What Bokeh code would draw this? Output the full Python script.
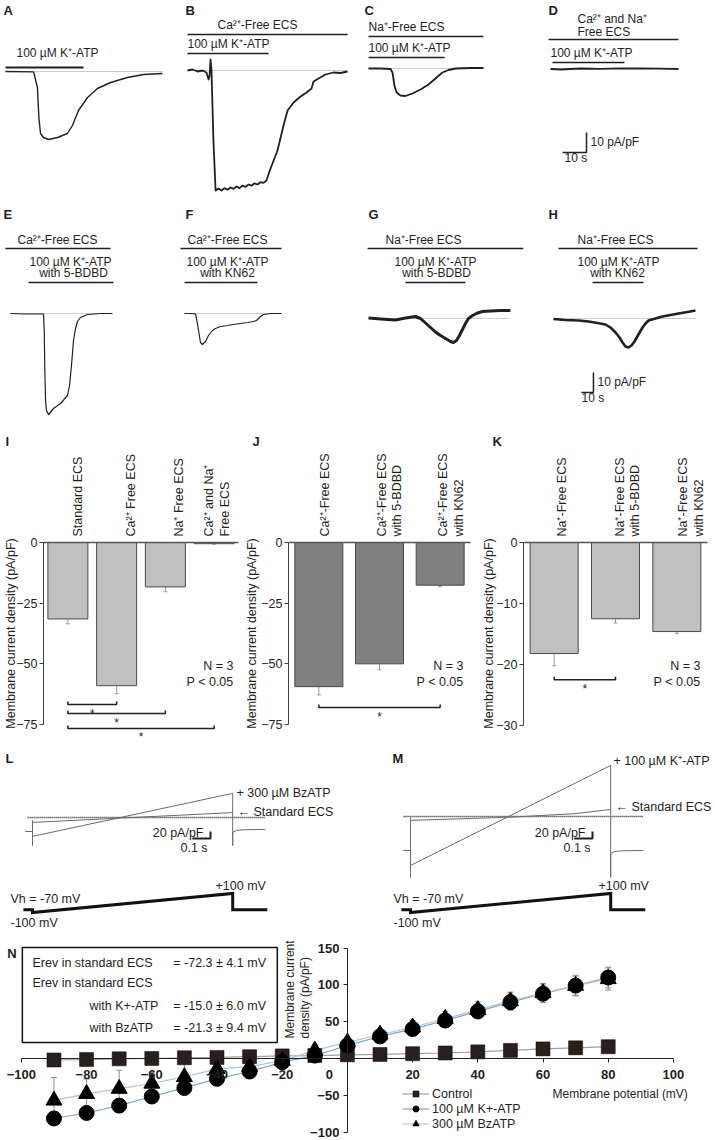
import math
from bokeh.plotting import figure
from bokeh.models import (Range1d, ColumnDataSource, Label, LabelSet, FixedTicker,
                          LinearAxis, Whisker, TeeHead, BoxAnnotation, Legend, LegendItem)
from bokeh.layouts import column, row
from bokeh.embed import file_html
from bokeh.resources import INLINE
from bokeh.core.properties import value

FONT = "Liberation Sans"
INK = "#231f20"

# ============================ DATA ============================
# A-D: whole-cell current density traces (time s, current pA/pF)
A_t = [0, 11.7, 13.3, 13.9, 14.6, 15.8, 17.9, 21.7, 25.8, 27.9, 30.4, 34.2, 38.3, 43.8, 50.8, 57.5, 65.4]
A_i = [0, -0.2, -8, -23, -31, -33, -34, -33, -31, -27, -19.5, -13, -8.5, -5.5, -3, -1.5, -1]
A_drug = [0, 32.5]

B_t = [0, 2.1, 4.2, 6.3, 7.9, 8.8, 9.2, 9.6, 10.0, 10.8, 11.7, 12.9, 14.2, 15.4, 16.7, 17.9, 19.2,
       20.4, 21.7, 22.9, 24.2, 25.4, 26.7, 27.9, 29.2, 30.4, 31.7, 32.9, 34.6, 37.5, 40.0, 41.7,
       44.2, 47.1, 49.6, 51.7, 52.5, 54.6, 57.5, 60.8, 63.8, 66.7]
B_i = [0, 0.5, -0.5, 0, -1, -4.5, -2.5, 5.5, 0, -35, -60, -59, -60, -58.8, -59.6, -58.5, -59.2,
       -58, -58.8, -57.6, -58.2, -57, -57.6, -56.4, -57, -55.8, -56.2, -55, -49, -40, -27.5, -20,
       -16, -13, -11, -9, -5.5, -4, -2, -1, -1.25, -0.5]
B_sol = [0, 66.7]
B_drug = [0, 33.75]

C_t = [0, 5, 9.2, 10, 10.8, 11.7, 13.3, 15.4, 18.3, 21.7, 25, 27.9, 30.8, 33.3, 36.3, 42.5, 47.9]
C_i = [0, 0, -0.25, -2, -8.5, -12, -13.5, -13.75, -12.5, -10.5, -8, -5, -2, -0.75, 0, 0.25, 0.25]
C_sol = [0, 47.9]
C_drug = [0, 31.7]

D_t = [0, 4.2, 8.3, 12.5, 20.8, 29.2, 37.5, 45.8, 53.3]
D_i = [-0.25, -0.5, -0.25, 0, -0.15, 0.1, 0, -0.1, -0.25]
D_sol = [-0.8, 53.3]
D_drug = [0.8, 30.8]

SCALE_T = 10      # s
SCALE_I = 10      # pA/pF

# E-H
E_t = [0, 12.5, 27.5, 28.1, 28.6, 29.2, 30, 31.7, 35.8, 41.7, 47.5, 49.2, 50.8, 51.7, 52.5, 54.2,
       55.8, 58.3, 64.2, 75, 85]
E_i = [0, -0.25, -0.25, -8.5, -28.5, -43.5, -48.5, -50.5, -47.5, -45, -41, -36, -26, -19.5, -13.5,
       -7.5, -4, -2, -0.5, 0, 0]
E_sol = [-4.2, 83.3]
E_drug = [15, 85.8]

F_t = [0, 5, 9.2, 10, 11.7, 13.3, 15, 17.5, 20, 23.3, 25.8, 30, 35.8, 40.8, 46.7, 52.5, 57.5, 60,
       61.7, 63.3, 65.8, 71.7, 80.8]
F_i = [0, 0, -0.25, -2.5, -8.5, -14.5, -15.5, -14, -11, -8.5, -7.5, -6.5, -6, -5.5, -5, -4.5, -4,
       -3.5, -2.5, -1.5, -0.5, 0, 0]
F_sol = [-5, 80.8]
F_drug = [0, 60.8]

G_t = [0, 10, 22.5, 30.8, 39.2, 43.3, 47.5, 51.7, 55.8, 60, 64.2, 68.3, 70.8, 73.3, 75.8, 78.3,
       80.8, 83.3, 86.7, 90.8, 95, 101.7, 110, 118.3]
G_i = [0.25, -0.25, -0.75, 0.25, 1, 0, -2.25, -4.5, -6.75, -8.5, -10, -11.5, -12, -11, -8.5, -5.5,
       -2.5, 0, 1.5, 2.75, 3.5, 3.75, 4, 4]
G_sol = [-0.8, 129]
G_drug = [30.8, 80.8]

H_t = [0, 10, 20.8, 29.2, 36.7, 43.3, 47.5, 51.7, 55, 57.5, 60, 62.5, 65, 67.5, 70.8, 74.2, 76.7,
       79.2, 85, 90.8, 97.5, 104.2, 111.7, 118.3]
H_i = [-0.25, -0.75, -1, -1.5, -2.25, -3, -4.5, -7, -9.5, -12, -14, -14.5, -13.5, -11.5, -8, -4.5,
       -2.5, -1, 0, 1, 1.75, 2.5, 3.25, 4]
H_sol = [4.2, 120]
H_drug = [32.5, 75]

# I-K: bar charts (pA/pF, mean and SEM)
I_cats = ["Standard ECS", "Ca²⁺ Free ECS", "Na⁺ Free ECS", "Ca²⁺ and Na⁺\nFree ECS"]
I_mean = [-31.5, -59.0, -18.3, -0.5]
I_err = [2.0, 3.3, 2.0, 0.2]
I_sig = [(0, 1, -66.8), (0, 2, -70.5), (0, 3, -76.6)]

J_cats = ["Ca²⁺-Free ECS", "Ca²⁺-Free ECS\nwith 5-BDBD", "Ca²⁺-Free ECS\nwith KN62"]
J_mean = [-59.4, -50.0, -17.6]
J_err = [3.4, 2.4, 0.5]
J_sig = [(0, 2, -68.0)]

K_cats = ["Na⁺-Free ECS", "Na⁺-Free ECS\nwith 5-BDBD", "Na⁺-Free ECS\nwith KN62"]
K_mean = [-18.2, -12.5, -14.6]
K_err = [2.0, 0.7, 0.3]
K_sig = [(0, 1, -22.5)]

IJ_ticks = [0, -25, -50, -75]
K_ticks = [0, -10, -20, -30]

# L-M: ramp protocol currents (time s, pA/pF) and voltage (mV)
L_bz_t = [-0.04, 0, 0, 0, 0, 1.1, 1.1, 1.1, 1.12, 1.16, 1.28]
L_bz_i = [-40, -40, -9, -80, -54, 69, -80, -43, -37, -35, -34]
L_std_t = [0, 1.1]
L_std_i = [-14, 14]
M_atp_t = [-0.04, 0, 0, 0, 0, 1.1, 1.1, 1.1, 1.12, 1.16, 1.28]
M_atp_i = [-97, -97, -3, -174, -140, 146, -174, -106, -100, -98, -97]
M_std_t = [0, 0.55, 0.9, 1.1]
M_std_i = [-11, -2, 8, 20]
V_t = [-0.05, 0, 0, 1.1, 1.1, 1.29]
V_mv = [-70, -70, -100, 100, -70, -70]
SCALE_RT = 0.1    # s
SCALE_RI = 20     # pA/pF

# N: I-V relation
N_v = [-90, -80, -70, -60, -50, -40, -30, -20, -10, 0, 10, 20, 30, 40, 50, 60, 70, 80]
N_ctrl = [-2, -1.5, -0.5, 0, 1, 1.5, 2.5, 3.5, 4, 5, 5.5, 6.5, 7.5, 9, 11, 13, 14.5, 16]
N_ctrl_err = [2, 2, 2, 2, 2, 2, 2, 2, 2, 2, 2, 2, 2, 2, 2, 2, 2, 2]
N_atp = [-81.5, -74, -64, -51.6, -40, -27.6, -17.7, -5, 4, 17.7, 30, 40, 51.6, 64, 76.5, 88, 99, 110]
N_atp_err = [8, 8, 9, 8, 9, 9, 8, 7, 6, 7, 7, 8, 9, 10, 11, 12, 13, 14]
N_bz = [-57, -48, -41, -34, -25, -14, -11, -3, 11, 22, 32.6, 42.5, 54, 66, 78, 89, 99, 108]
N_bz_err = [31, 20, 25, 15, 18, 12, 10, 8, 7, 7, 8, 9, 10, 11, 12, 13, 14, 15]
N_xticks = [-100, -80, -60, -40, -20, 0, 20, 40, 60, 80, 100]
N_yticks = [-100, -50, 0, 50, 100, 150]


# ============================ HELPERS ============================
def lab(p, x, y, s, size="12px", align="left", base="middle", bold=False, angle=0.0,
        color=INK, lh=1.2):
    p.add_layout(Label(x=x, y=y, text=s, text_font=FONT, text_font_size=size, text_align=align,
                       text_baseline=base, text_font_style="bold" if bold else "normal",
                       angle=angle, text_color=color, text_line_height=lh))


def labb(p, x, y_base, s, size="12px", align="left", bold=False, Yf=None):
    """place a one-line text by its baseline (layout px), drawn as middle-anchored text"""
    fs = float(size.replace("px", ""))
    ym = y_base - 0.35 * fs
    lab(p, x, Yf(ym) if Yf else ym, s, size, align, "middle", bold)


def trace_fig(w, h, rx0, ry0, t0_rx, kt, base_ry, ki):
    p = figure(width=w, height=h, x_range=Range1d(rx0, rx0 + w), y_range=Range1d(ry0 + h, ry0),
               output_backend="svg", toolbar_location=None, x_axis_location=None,
               y_axis_location=None, min_border=0, outline_line_color=None)
    p.xgrid.visible = False
    p.ygrid.visible = False
    p.extra_x_ranges = {"t": Range1d((rx0 - t0_rx) / kt, (rx0 + w - t0_rx) / kt)}
    p.extra_y_ranges = {"i": Range1d((base_ry - (ry0 + h)) / ki, (base_ry - ry0) / ki)}
    return p


def tbar(p, seg, ry, width=1.6):
    p.segment(x0=[seg[0]], x1=[seg[1]], y0=[ry], y1=[ry], x_range_name="t",
              line_color=INK, line_width=width)


def trace(p, t, i, width=1.3, color=INK):
    p.line(t, i, x_range_name="t", y_range_name="i", line_color=color, line_width=width,
           line_join="round")


def baseline(p, t0, t1, color="#9a9a9a", width=1.0, dash="1 1"):
    p.line([t0, t1], [0, 0], x_range_name="t", y_range_name="i", line_color=color,
           line_width=width, line_dash=dash)


def scalebar(p, tc, ic, dt, di, width=1.5):
    p.line([tc - dt, tc, tc], [ic, ic, ic + di], x_range_name="t", y_range_name="i",
           line_color=INK, line_width=width)


# ============================ ROW 1 ============================
pA = trace_fig(180, 200, 0, 0, 5, 2.4, 71, 2)
labb(pA, 3, 15, "A", "13px", bold=True)
labb(pA, 16, 57, "100 µM K⁺-ATP")
tbar(pA, A_drug, 67, 2)
baseline(pA, A_t[0], A_t[-1])
trace(pA, A_t, A_i, 1.4)

pB = trace_fig(175, 200, 180, 0, 187, 2.4, 70, 2)
labb(pB, 185, 15, "B", "13px", bold=True)
labb(pB, 217, 29, "Ca²⁺-Free ECS")
tbar(pB, B_sol, 34)
labb(pB, 187, 48, "100 µM K⁺-ATP")
tbar(pB, B_drug, 53)
baseline(pB, B_t[0], B_t[-1])
trace(pB, B_t, B_i, 1.8)

pC = trace_fig(185, 200, 355, 0, 368, 2.4, 68, 2)
labb(pC, 364, 15, "C", "13px", bold=True)
labb(pC, 368, 31, "Na⁺-Free ECS")
tbar(pC, C_sol, 36)
labb(pC, 368, 52, "100 µM K⁺-ATP")
tbar(pC, C_drug, 57)
baseline(pC, C_t[0], C_t[-1])
trace(pC, C_t, C_i, 1.8)

pD = trace_fig(175, 200, 540, 0, 550, 2.4, 68, 2)
labb(pD, 548, 15, "D", "13px", bold=True)
labb(pD, 577, 23, "Ca²⁺ and Na⁺")
labb(pD, 577, 36, "Free ECS")
tbar(pD, D_sol, 39)
labb(pD, 550, 57, "100 µM K⁺-ATP")
tbar(pD, D_drug, 62)
baseline(pD, D_t[0], D_t[-1])
trace(pD, D_t, D_i, 1.8)
scalebar(pD, 15, -42, SCALE_T, SCALE_I)
labb(pD, 590, 146, "10 pA/pF")
labb(pD, 564, 162, "10 s")

# ============================ ROW 2 ============================
pE = trace_fig(180, 220, 0, 200, 10, 1.2, 313, 2)
labb(pE, 3, 219, "E", "13px", bold=True)
labb(pE, 57, 244, "Ca²⁺-Free ECS", align="center")
tbar(pE, E_sol, 248)
labb(pE, 70, 266, "100 µM K⁺-ATP", align="center")
labb(pE, 73, 277, "with 5-BDBD", align="center")
tbar(pE, E_drug, 282)
baseline(pE, E_t[0], E_t[-1])
trace(pE, E_t, E_i, 1.2)

pF = trace_fig(175, 220, 180, 200, 184, 1.2, 313, 2)
labb(pF, 185, 219, "F", "13px", bold=True)
labb(pF, 227, 244, "Ca²⁺-Free ECS", align="center")
tbar(pF, F_sol, 248)
labb(pF, 227, 266, "100 µM K⁺-ATP", align="center")
labb(pF, 227, 277, "with KN62", align="center")
tbar(pF, F_drug, 282)
baseline(pF, F_t[0], F_t[-1])
trace(pF, F_t, F_i, 1.2)

pG = trace_fig(180, 220, 355, 200, 368, 1.2, 318, 2)
labb(pG, 368, 219, "G", "13px", bold=True)
labb(pG, 423, 244, "Na⁺-Free ECS", align="center")
tbar(pG, G_sol, 248)
labb(pG, 435, 266, "100 µM K⁺-ATP", align="center")
labb(pG, 436, 277, "with 5-BDBD", align="center")
tbar(pG, G_drug, 282)
baseline(pG, G_t[0], G_t[-1])
trace(pG, G_t, G_i, 3.0)

pH = trace_fig(180, 220, 535, 200, 553, 1.2, 318, 2)
labb(pH, 548, 219, "H", "13px", bold=True)
labb(pH, 615, 244, "Na⁺-Free ECS", align="center")
tbar(pH, H_sol, 248)
labb(pH, 618, 266, "100 µM K⁺-ATP", align="center")
labb(pH, 617, 277, "with KN62", align="center")
tbar(pH, H_drug, 282)
baseline(pH, H_t[0], H_t[-1])
trace(pH, H_t, H_i, 2.6)
scalebar(pH, 33.3, -37, SCALE_T, SCALE_I)
labb(pH, 597, 386, "10 pA/pF")
labb(pH, 581, 402, "10 s")


# ============================ ROW 3 ============================
def bar_fig(w, rx0, fl, fr, cats, means, errs, sigs, ky, ticks, fill, bar_px, dx, ylab_rx,
            letter, letter_rx, n_rx):
    n = len(cats)
    catpx = (fr - fl) / n
    X = lambda rx: 0.5 + (rx - fl) / catpx
    Y = lambda ry: (542.0 - ry) / ky
    p = figure(width=w, height=330, x_range=Range1d(X(rx0), X(rx0 + w)),
               y_range=Range1d(Y(750), Y(420)), output_backend="svg", toolbar_location=None,
               x_axis_location=None, y_axis_location=None, min_border=0,
               outline_line_color=None)
    p.xgrid.visible = False
    p.ygrid.visible = False
    xs = list(range(1, n + 1))
    p.vbar(x=xs, top=[0] * n, bottom=means, width=bar_px / catpx, fill_color=fill,
           line_color="#4a4a4a", line_width=1)
    src = ColumnDataSource(dict(x=xs, up=[m + e for m, e in zip(means, errs)],
                                lo=[m - e for m, e in zip(means, errs)]))
    p.add_layout(Whisker(source=src, base="x", upper="up", lower="lo", line_color="#9a9a9a",
                         line_width=1,
                         upper_head=TeeHead(size=4, line_color="#9a9a9a", line_width=1),
                         lower_head=TeeHead(size=4, line_color="#9a9a9a", line_width=1)))
    # zero line (category axis) and value axis
    xax = LinearAxis(fixed_location=0, bounds=(0.5, n + 0.5), ticker=FixedTicker(ticks=[]),
                     axis_line_color="#555555", axis_line_width=1.5,
                     major_tick_line_color=None, minor_tick_line_color=None)
    p.add_layout(xax, "above")
    yax = LinearAxis(fixed_location=0.5, bounds=(min(ticks), max(ticks)),
                     ticker=FixedTicker(ticks=ticks))
    yax.major_label_text_font = FONT
    yax.major_label_text_font_size = "12.5px"
    yax.major_label_text_color = INK
    yax.major_label_standoff = 2
    yax.major_tick_out = 4
    yax.major_tick_in = 0
    yax.minor_tick_line_color = None
    yax.axis_line_color = "#404040"
    yax.major_tick_line_color = "#404040"
    p.add_layout(yax, "left")
    lab(p, X(ylab_rx), Y(633), "Membrane current density (pA/pF)", "12.5px", align="center",
        base="middle", angle=math.pi / 2)
    lsrc = ColumnDataSource(dict(x=xs, y=[Y(536)] * n, text=cats, dx=dx))
    p.add_layout(LabelSet(source=lsrc, x="x", y="y", text="text", x_offset="dx",
                          angle=math.pi / 2, text_align="left", text_baseline="middle",
                          text_font=value(FONT), text_font_size="12.5px", text_color=INK,
                          text_line_height=1.1))
    tick = 3.0 / ky
    for a, b, yb in sigs:
        xa, xb = a + 1, b + 1
        p.line([xa, xa, xb, xb], [yb + tick, yb, yb, yb + tick], line_color=INK, line_width=1.5)
        p.text(x=[(xa + xb) / 2], y=[yb - 2.0 / ky], text=["*"], text_align="center",
               text_baseline="top", text_font=value(FONT), text_font_size="12px",
               text_color=INK)
    labb(p, X(letter_rx), 446, letter, "13px", bold=True, Yf=Y)
    labb(p, X(n_rx), 670, "N = 3", "12.5px", align="right", Yf=Y)
    labb(p, X(n_rx), 686, "P < 0.05", "12.5px", align="right", Yf=Y)
    return p


pI = bar_fig(240, 0, 43, 238, I_cats, I_mean, I_err, I_sig, 182 / 75.0, IJ_ticks, "#c0c0c0",
             40, [10, 14, 14, 3], 10, "I", 5, 233)
pJ = bar_fig(232, 240, 288, 470, J_cats, J_mean, J_err, J_sig, 182 / 75.0, IJ_ticks, "#808080",
             48, [6, 10, 11], 251, "J", 252, 463)
pK = bar_fig(243, 472, 523, 707, K_cats, K_mean, K_err, K_sig, 183 / 30.0, K_ticks, "#c0c0c0",
             48, [8, 12, 14], 488, "K", 492, 700)


# ============================ ROW 4 ============================
def ramp_fig(w, rx0, t0_rx, base_ry):
    p = trace_fig(w, 190, rx0, 750, t0_rx, 182, base_ry, 0.35)
    p.extra_y_ranges = {"i": Range1d((base_ry - 940) / 0.35, (base_ry - 750) / 0.35),
                        "v": Range1d(-100 + (912 - 940) / 0.095, -100 + (912 - 750) / 0.095)}
    return p


def vtrace(p, t, v):
    p.line(t, v, x_range_name="t", y_range_name="v", line_color="#111111", line_width=3,
           line_join="miter")


pL = ramp_fig(360, 0, 32, 817)
labb(pL, 5, 763, "L", "13px", bold=True)
baseline(pL, -0.027, 1.28, color="#111111", width=1.5, dash="1 1")
trace(pL, L_std_t, L_std_i, 1.0, "#6a6a6a")
trace(pL, L_bz_t, L_bz_i, 1.0, "#6a6a6a")
labb(pL, 236, 797, "+ 300 µM BzATP", "12.5px")
labb(pL, 237, 816, "\u2190 Standard ECS", "12.5px")
scalebar(pL, 0.978, -60, SCALE_RT, SCALE_RI, 2)
labb(pL, 203, 837, "20 pA/pF", "12.5px", align="right")
labb(pL, 180, 852, "0.1 s", "12.5px")
vtrace(pL, V_t, V_mv)
labb(pL, 10, 903, "Vh = -70 mV", "12.5px")
labb(pL, 10, 927, "-100 mV", "12.5px")
labb(pL, 215, 890, "+100 mV", "12.5px")

pM = ramp_fig(355, 360, 410, 816)
labb(pM, 392, 763, "M", "13px", bold=True)
baseline(pM, -0.038, 1.28, color="#111111", width=1.5, dash="1 1")
trace(pM, M_std_t, M_std_i, 1.0, "#6a6a6a")
trace(pM, M_atp_t, M_atp_i, 1.0, "#6a6a6a")
labb(pM, 613, 765, "+ 100 µM K⁺-ATP", "12.5px")
labb(pM, 615, 811, "\u2190 Standard ECS", "12.5px")
scalebar(pM, 1.0, -63, SCALE_RT, SCALE_RI, 2)
labb(pM, 585, 837, "20 pA/pF", "12.5px", align="right")
labb(pM, 563, 852, "0.1 s", "12.5px")
vtrace(pM, V_t, V_mv)
labb(pM, 393, 903, "Vh = -70 mV", "12.5px")
labb(pM, 393, 927, "-100 mV", "12.5px")
labb(pM, 598, 890, "+100 mV", "12.5px")

# ============================ ROW 5 (N) ============================
pN = figure(width=715, height=200, x_range=Range1d(-106.4, 112.9), y_range=Range1d(-111.4, 160.3),
            output_backend="svg", toolbar_location=None, x_axis_location=None,
            y_axis_location=None, min_border=0, outline_line_color=None)
pN.xgrid.visible = False
pN.ygrid.visible = False

xax = LinearAxis(fixed_location=0, bounds=(-100, 100), ticker=FixedTicker(ticks=N_xticks),
                 major_label_overrides={0: "0" + "\u00a0" * 10})
yax = LinearAxis(fixed_location=0, bounds=(-100, 150), ticker=FixedTicker(ticks=N_yticks),
                 major_label_overrides={0: ""})
for ax in (xax, yax):
    ax.major_label_text_font = FONT
    ax.major_label_text_font_size = "13px"
    ax.major_label_text_font_style = "bold"
    ax.major_label_text_color = INK
    ax.major_tick_out = 4
    ax.major_tick_in = 0
    ax.minor_tick_line_color = None
    ax.axis_line_color = "#222222"
    ax.major_tick_line_color = "#222222"
xax.major_label_standoff = 5
yax.major_label_standoff = 4
pN.add_layout(xax, "below")
pN.add_layout(yax, "left")

pN.add_layout(BoxAnnotation(left=-99.7, right=-21.5, top=150.8, bottom=21.7, fill_alpha=0,
                            line_color="#111111", line_alpha=1.0, line_width=1.5))
lab(pN, -104.3, 142.5, "N", "13px", bold=True)
lab(pN, -96.6, 130.4, "Erev in standard ECS", "12.5px")
lab(pN, -53.4, 130.4, "= -72.3 ± 4.1 mV", "12.5px")
lab(pN, -96.6, 101.9, "Erev in standard ECS", "12.5px")
lab(pN, -79.1, 70.7, "with K+-ATP", "12.5px")
lab(pN, -53.4, 70.7, "= -15.0 ± 6.0 mV", "12.5px")
lab(pN, -79.1, 40.8, "with BzATP", "12.5px")
lab(pN, -53.4, 40.8, "= -21.3 ± 9.4 mV", "12.5px")
lab(pN, -15.3, 27.2, "Membrane current\ndensity (pA/pF)", "12px", angle=math.pi / 2, lh=1.05)
lab(pN, 62.9, -47.6, "Membrane potential (mV)", "12px")

l_c = pN.line(N_v, N_ctrl, line_color="#a0a0a0", line_width=1.2)
l_a = pN.line(N_v, N_atp, line_color="#7fa6c6", line_width=1.2)
l_b = pN.line(N_v, N_bz, line_color="#a9c6da", line_width=1.2)
for ys, es in ((N_ctrl, N_ctrl_err), (N_bz, N_bz_err), (N_atp, N_atp_err)):
    s = ColumnDataSource(dict(x=N_v, up=[a + b for a, b in zip(ys, es)],
                              lo=[a - b for a, b in zip(ys, es)]))
    pN.add_layout(Whisker(source=s, base="x", upper="up", lower="lo", line_color="#8c8c8c",
                          line_width=1,
                          upper_head=TeeHead(size=6, line_color="#8c8c8c", line_width=1),
                          lower_head=TeeHead(size=6, line_color="#8c8c8c", line_width=1)))
s_c = pN.scatter(N_v, N_ctrl, marker="square", size=14, fill_color="#2a1f1d",
                 line_color="#000000", line_width=0.5)
s_b = pN.scatter(N_v, N_bz, marker="triangle", size=16, fill_color="#000000",
                 line_color="#000000")
s_a = pN.scatter(N_v, N_atp, marker="circle", size=15, fill_color="#000000",
                 line_color="#000000")
leg = Legend(items=[LegendItem(label=value("Control"), renderers=[l_c, s_c]),
                    LegendItem(label=value("100 µM K+-ATP"), renderers=[l_a, s_a]),
                    LegendItem(label=value("300 µM BzATP"), renderers=[l_b, s_b])],
             location=(402, 9), orientation="vertical", glyph_width=27, glyph_height=15,
             label_height=15, spacing=0, padding=0, margin=0, label_standoff=3,
             label_text_font=FONT, label_text_font_size="12.5px", label_text_color=INK,
             background_fill_alpha=0, border_line_alpha=0)
pN.add_layout(leg)

layout = column(row(pA, pB, pC, pD), row(pE, pF, pG, pH), row(pI, pJ, pK), row(pL, pM), pN)
open("out.html", "w").write(file_html(layout, INLINE))
